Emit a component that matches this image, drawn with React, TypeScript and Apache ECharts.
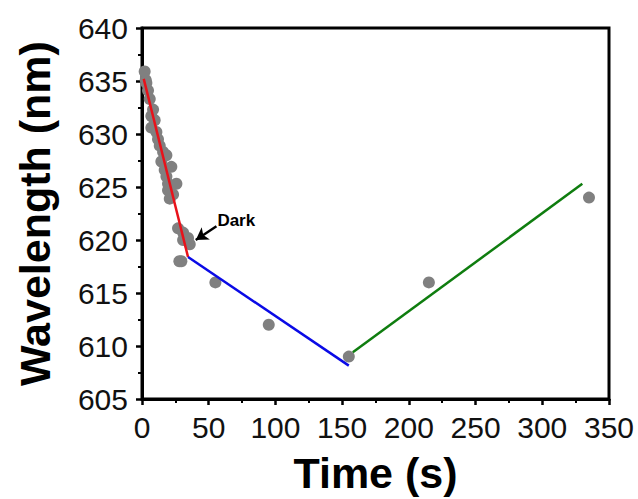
import React, { useEffect, useRef } from "react";
import * as echarts from "echarts";

const timeValues = [2, 2.8, 3.3, 4.5, 5.8, 8.3, 7, 9.5, 7, 10.8, 12, 13.3, 15.8, 18.3, 14.5, 22, 17, 18.3, 19.5, 25.8, 19.5, 23.3, 20.8, 27, 30.8, 34.5, 30.8, 35.8, 29.5, 28, 55, 95, 155, 215, 335];
const wavelengthValues = [635.9, 635.1, 634.8, 634.1, 633.3, 632.3, 631.7, 631.3, 630.6, 630.2, 629.5, 628.9, 628.3, 628.0, 627.4, 626.9, 626.6, 626.0, 625.3, 625.3, 624.7, 624.3, 623.9, 621.1, 620.7, 620.2, 620.0, 619.6, 618.0, 618.0, 616, 612, 609, 616, 624];

const redFit = [[1.3, 635.2], [34.5, 618.4]];
const blueFit = [[34.5, 618.4], [155, 608.15]];
const greenFit = [[158, 609.4], [330, 625.3]];

const arrowFrom = [55.8, 621.3];
const arrowTo = [40.3, 620.0];
const labelAt = [56.5, 621.8];

const xTicks = { min: 0, max: 350, interval: 50 };
const yTicks = { min: 605, max: 640, interval: 5 };

const FONT = "Liberation Sans, Arial, sans-serif";

export default function App() {
  const ref = useRef<HTMLDivElement>(null);
  useEffect(() => {
    const chart = echarts.init(ref.current!, null, { renderer: "svg" });
    const points = timeValues.map((t, i) => [t, wavelengthValues[i]]);
    const axisCommon = {
      axisLine: { show: true, onZero: false, lineStyle: { color: "#000", width: 3 } },
      axisTick: { show: true, inside: false, length: 6, lineStyle: { color: "#000", width: 2.5 } },
      minorTick: { show: true, splitNumber: 2, length: 4, lineStyle: { color: "#000", width: 2 } },
      splitLine: { show: false },
      axisLabel: { color: "#111", fontSize: 30, fontFamily: FONT },
      nameTextStyle: { color: "#000", fontSize: 43, fontWeight: "bold", fontFamily: FONT },
    };
    chart.setOption({
      animation: false,
      backgroundColor: "#fff",
      grid: { left: 142, right: 29, top: 28, bottom: 96, show: true, borderColor: "#000", borderWidth: 3 },
      xAxis: {
        type: "value",
        ...xTicks,
        name: "Time (s)",
        nameLocation: "middle",
        nameGap: 52,
        ...axisCommon,
        axisLabel: { ...axisCommon.axisLabel, margin: 13 },
      },
      yAxis: {
        type: "value",
        ...yTicks,
        name: "Wavelength (nm)",
        nameLocation: "middle",
        nameGap: 86,
        ...axisCommon,
        axisLabel: { ...axisCommon.axisLabel, margin: 14 },
      },
      series: [
        {
          type: "scatter",
          data: points,
          symbolSize: 12,
          itemStyle: { color: "#808080", opacity: 1 },
          z: 2,
        },
        {
          type: "line",
          data: redFit,
          showSymbol: false,
          lineStyle: { color: "#e8121a", width: 2.5 },
          z: 3,
        },
        {
          type: "line",
          data: blueFit,
          showSymbol: false,
          lineStyle: { color: "#0a0ae6", width: 2.5 },
          z: 3,
        },
        {
          type: "line",
          data: greenFit,
          showSymbol: false,
          lineStyle: { color: "#0f7d0f", width: 2.5 },
          z: 3,
          markLine: {
            silent: true,
            symbol: ["none", "arrow"],
            symbolSize: [11, 12],
            label: { show: false },
            lineStyle: { color: "#000", width: 2.5, type: "solid" },
            data: [[{ coord: arrowFrom }, { coord: arrowTo }]],
          },
          markPoint: {
            silent: true,
            symbol: "circle",
            symbolSize: 0,
            label: {
              show: true,
              position: "right",
              distance: 0,
              formatter: "Dark",
              color: "#000",
              fontSize: 17,
              fontWeight: "bold",
              fontFamily: FONT,
            },
            data: [{ coord: labelAt }],
          },
        },
      ],
    });
    return () => chart.dispose();
  }, []);
  return <div ref={ref} style={{ width: 638, height: 499, position: "absolute", left: 0, top: 0 }} />;
}
